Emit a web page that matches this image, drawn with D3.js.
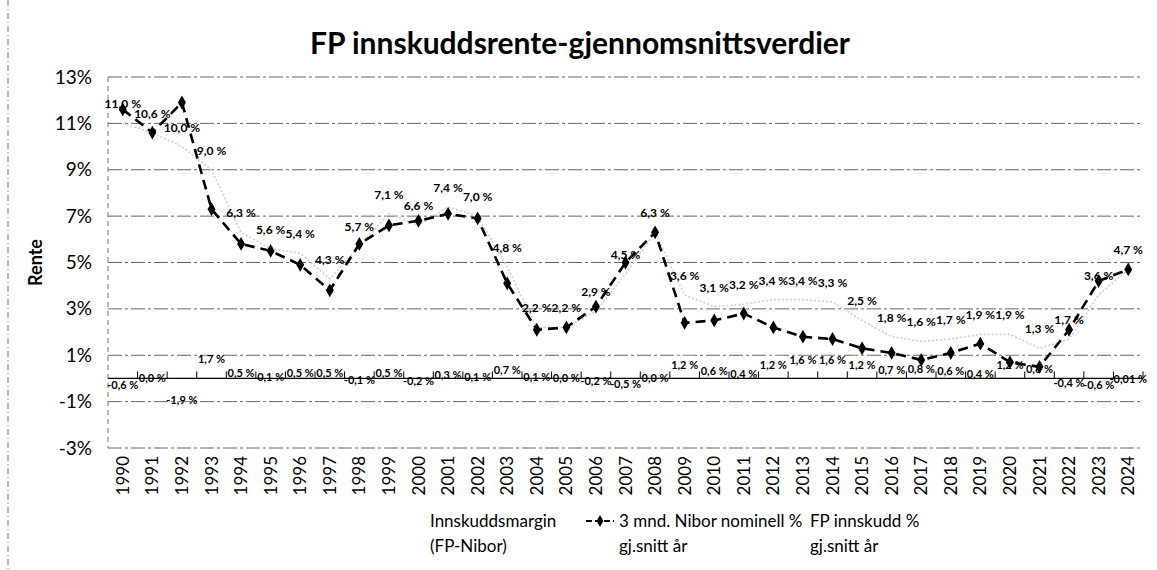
<!DOCTYPE html>
<html>
<head>
<meta charset="utf-8">
<script src="https://cdn.jsdelivr.net/npm/d3@7"></script>
<style>
  body { margin: 0; background: #fff; }
  svg { display: block; font-family: Lato, "Open Sans", sans-serif; }
</style>
</head>
<body>
<div id="chart"></div>
<script>
var years = ["1990","1991","1992","1993","1994","1995","1996","1997","1998","1999",
             "2000","2001","2002","2003","2004","2005","2006","2007","2008","2009",
             "2010","2011","2012","2013","2014","2015","2016","2017","2018","2019",
             "2020","2021","2022","2023","2024"]

// FP innskudd % gj.snitt år
var fpRate = [11.0,10.6,10.0,9.0,6.3,5.6,5.4,4.3,5.7,7.1,
              6.6,7.4,7.0,4.8,2.2,2.2,2.9,4.5,6.3,3.6,
              3.1,3.2,3.4,3.4,3.3,2.5,1.8,1.6,1.7,1.9,
              1.9,1.3,1.7,3.6,4.7]

// 3 mnd. Nibor nominell % gj.snitt år
var nibor = [11.6,10.6,11.9,7.3,5.8,5.5,4.9,3.8,5.8,6.6,
             6.8,7.1,6.9,4.1,2.1,2.2,3.1,5.0,6.3,2.4,
             2.5,2.8,2.2,1.8,1.7,1.3,1.1,0.8,1.1,1.5,
             0.7,0.5,2.1,4.2,4.7]

// Innskuddsmargin (FP-Nibor)
var margin = [-0.6,0.0,-1.9,1.7,0.5,0.1,0.5,0.5,-0.1,0.5,
              -0.2,0.3,0.1,0.7,0.1,0.0,-0.2,-0.5,0.0,1.2,
              0.6,0.4,1.2,1.6,1.6,1.2,0.7,0.8,0.6,0.4,
              1.2,0.8,-0.4,-0.6,-0.01]

var yTicks = [-3,-1,1,3,5,7,9,11,13]

var W = 1157, H = 570
var plot = {left: 108, right: 1143, top: 77, bottom: 448}

var svg = d3.select("#chart").append("svg")
    .attr("width", W)
    .attr("height", H)

var x = d3.scaleBand()
    .domain(years)
    .range([plot.left, plot.right])
    .paddingInner(0.35)
    .paddingOuter(0.175)

var y = d3.scaleLinear()
    .domain([-3, 13])
    .range([plot.bottom, plot.top])

var cx = d => x(d) + x.bandwidth() / 2
var fmt = v => {
    var s = (Math.abs(v) > 0 && Math.abs(v) < 0.05) ? d3.format(".2f")(v) : d3.format(".1f")(v)
    return s.replace(".", ",").replace("−", "-") + " %"
}

// page border left (scan)
svg.append("line")
    .attr("x1", 8).attr("x2", 8).attr("y1", 0).attr("y2", H)
    .attr("stroke", "#777").attr("stroke-dasharray", "6,3,1,3")

// title
svg.append("text")
    .attr("x", 580).attr("y", 54)
    .attr("text-anchor", "middle")
    .style("font-size", "30px")
    .style("font-weight", "bold")
    .text("FP innskuddsrente-gjennomsnittsverdier")

// grid
svg.append("g")
    .selectAll("line")
    .data(yTicks)
    .join("line")
    .attr("x1", plot.left).attr("x2", plot.right)
    .attr("y1", d => y(d)).attr("y2", d => y(d))
    .attr("stroke", "#666")
    .attr("stroke-width", 1)
    .attr("stroke-dasharray", "14,3,3,3")

// plot left border
svg.append("line")
    .attr("x1", plot.left).attr("x2", plot.left)
    .attr("y1", plot.top).attr("y2", plot.bottom)
    .attr("stroke", "#777").attr("stroke-dasharray", "5,4")

// y axis labels
var yAxis = svg.append("g")
    .attr("transform", `translate(${plot.left},0)`)
    .call(d3.axisLeft(y).tickValues(yTicks).tickSize(0).tickPadding(16).tickFormat(d => d + "%"))
yAxis.select(".domain").remove()
yAxis.selectAll("text")
    .style("font-size", "19px")
    .style("font-family", "Lato, sans-serif")
    .attr("fill", "#000")

svg.append("text")
    .attr("transform", `translate(42,${y(5)}) rotate(-90)`)
    .attr("text-anchor", "middle")
    .style("font-size", "18px")
    .style("font-weight", "bold")
    .text("Rente")

// margin bars (near-white in the original)
svg.append("g")
    .selectAll("rect")
    .data(years)
    .join("rect")
    .attr("x", d => x(d))
    .attr("width", x.bandwidth())
    .attr("y", (d, i) => y(Math.max(0, margin[i])))
    .attr("height", (d, i) => Math.abs(y(margin[i]) - y(0)))
    .attr("fill", "#fff")
    .attr("fill-opacity", 0.15)

// category axis at 0
svg.append("line")
    .attr("x1", plot.left).attr("x2", plot.right)
    .attr("y1", y(0)).attr("y2", y(0))
    .attr("stroke", "#000").attr("stroke-width", 1.2)
var step = x.step()
svg.append("g")
    .selectAll("line")
    .data(years)
    .join("line")
    .attr("x1", d => cx(d) + step / 2).attr("x2", d => cx(d) + step / 2)
    .attr("y1", y(0) - 7).attr("y2", y(0))
    .attr("stroke", "#000")

// x labels
svg.append("g")
    .selectAll("text")
    .data(years)
    .join("text")
    .attr("transform", d => `translate(${cx(d) + 6},${plot.bottom + 8}) rotate(-90)`)
    .attr("text-anchor", "end")
    .style("font-size", "17px")
    .text(d => d)

// FP innskudd line (faint)
var fpLine = d3.line().x((d, i) => cx(years[i])).y(d => y(d))
svg.append("path")
    .datum(fpRate)
    .attr("d", fpLine)
    .attr("fill", "none")
    .attr("stroke", "#cfcfcf")
    .attr("stroke-width", 1.6)
    .attr("stroke-dasharray", "2,2")

// Nibor line
var nibLine = d3.line().x((d, i) => cx(years[i])).y(d => y(d))
svg.append("path")
    .datum(nibor)
    .attr("d", nibLine)
    .attr("fill", "none")
    .attr("stroke", "#000")
    .attr("stroke-width", 2.6)
    .attr("stroke-dasharray", "10,6")
svg.append("g")
    .selectAll("path")
    .data(nibor)
    .join("path")
    .attr("d", d3.symbol(d3.symbolDiamond, 55))
    .attr("transform", (d, i) => `translate(${cx(years[i])},${y(d)})`)
    .attr("fill", "#000")

// FP labels
svg.append("g")
    .selectAll("text")
    .data(fpRate)
    .join("text")
    .attr("x", (d, i) => cx(years[i]))
    .attr("y", d => y(d) - 15)
    .attr("text-anchor", "middle")
    .style("font-size", "12px")
    .style("font-weight", "bold")
    .text(d => fmt(d))

// margin labels (centre of bar)
svg.append("g")
    .selectAll("text")
    .data(margin)
    .join("text")
    .attr("x", (d, i) => cx(years[i]))
    .attr("y", d => (y(d) + y(0)) / 2 + 4)
    .attr("text-anchor", "middle")
    .style("font-size", "11px")
    .style("font-weight", "bold")
    .text(d => fmt(d))

// legend
var lg = svg.append("g").style("font-size", "17px")
lg.append("text").attr("x", 430).attr("y", 527).text("Innskuddsmargin")
lg.append("text").attr("x", 430).attr("y", 552).text("(FP-Nibor)")
lg.append("line").attr("x1", 586).attr("x2", 614).attr("y1", 521).attr("y2", 521)
    .attr("stroke", "#000").attr("stroke-width", 2.2).attr("stroke-dasharray", "6,3")
lg.append("path").attr("d", d3.symbol(d3.symbolDiamond, 40))
    .attr("transform", "translate(600,521)")
lg.append("text").attr("x", 619).attr("y", 527).text("3 mnd. Nibor nominell %")
lg.append("text").attr("x", 619).attr("y", 552).text("gj.snitt år")
lg.append("text").attr("x", 810).attr("y", 527).text("FP innskudd %")
lg.append("text").attr("x", 810).attr("y", 552).text("gj.snitt år")
</script>
</body>
</html>
